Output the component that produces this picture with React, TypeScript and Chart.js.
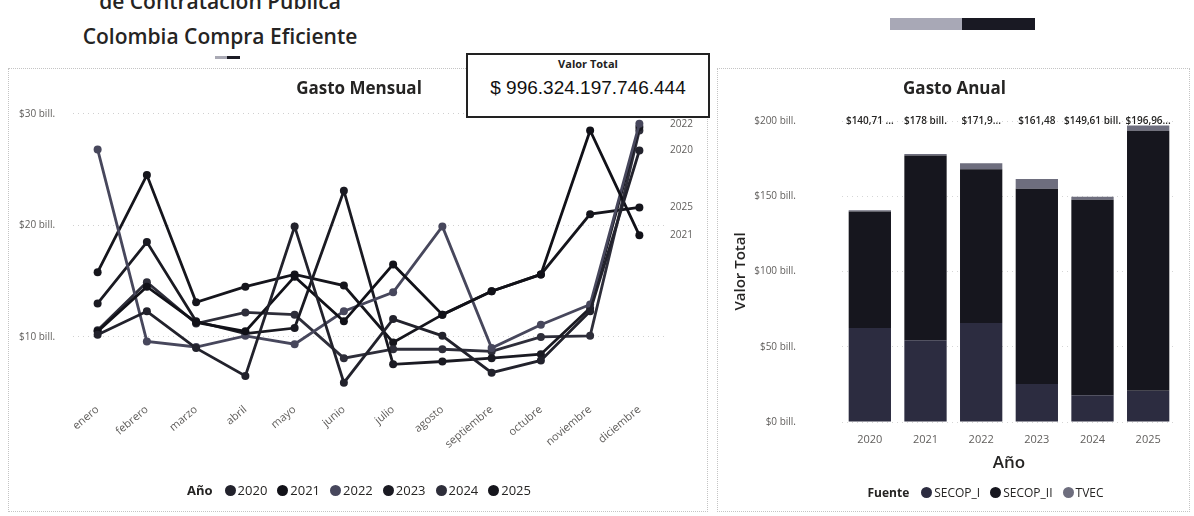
import React, { useEffect, useRef } from 'react';
import { Chart, registerables } from 'chart.js';

Chart.register(...registerables);

// ---------- Data: Gasto Mensual ----------
const months = ['enero', 'febrero', 'marzo', 'abril', 'mayo', 'junio', 'julio', 'agosto', 'septiembre', 'octubre', 'noviembre', 'diciembre'];
const years = ['2020', '2021', '2022', '2023', '2024', '2025'];
const gasto2020 = [10.2, 12.3, 9.0, 6.5, 19.9, 5.9, 11.6, 10.1, 6.8, 7.9, 12.3, 26.7];
const gasto2021 = [10.5, 14.5, 11.3, 10.5, 15.4, 11.4, 16.5, 12.0, 14.1, 15.6, 28.5, 19.1];
const gasto2022 = [26.8, 9.6, 9.1, 10.1, 9.35, 12.3, 14.0, 19.9, 9.0, 11.1, 12.9, 29.1];
const gasto2023 = [13.0, 18.5, 11.4, 10.3, 10.8, 23.1, 7.55, 7.8, 8.1, 8.45, 12.6, 28.8];
const gasto2024 = [10.6, 14.9, 11.2, 12.2, 12.0, 8.1, 8.9, 8.9, 8.7, 10.0, 10.1, 28.5];
const gasto2025 = [15.8, 24.5, 13.1, 14.5, 15.6, 14.6, 9.5, 12.0, 14.1, 15.6, 21.0, 21.6];
const monthlyTicks = [10, 20, 30];
const monthlyTickLabels = ['$10 bill.', '$20 bill.', '$30 bill.'];
const endLabelYears = ['2022', '2020', '2025', '2021'];
const lineColors = ['#22222c', '#111118', '#47475c', '#1a1a22', '#2e2e3a', '#15151c'];

// ---------- Data: Gasto Anual ----------
const fuentes = ['SECOP_I', 'SECOP_II', 'TVEC'];
const secopI = [62.5, 54.4, 65.8, 25.2, 17.8, 20.8];
const secopII = [77.4, 122.6, 102.1, 129.8, 129.8, 172.7];
const tvec = [0.8, 1.0, 4.0, 6.5, 2.0, 3.5];
const annualTotalLabels = ['$140,71 ...', '$178 bill.', '$171,9...', '$161,48', '$149,61 bill.', '$196,96...'];
const annualTicks = [0, 50, 100, 150, 200];
const annualTickLabels = ['$0 bill.', '$50 bill.', '$100 bill.', '$150 bill.', '$200 bill.'];
const barColors = ['#2c2c40', '#16161e', '#6e6e7e'];

const valorTotal = '$ 996.324.197.746.444';

const FONT = '"Open Sans", "Noto Sans", sans-serif';

const endLabelPlugin = {
  id: 'endLabels',
  afterDatasetsDraw(chart: any) {
    const { ctx, chartArea } = chart;
    ctx.save();
    ctx.font = '10px "Open Sans"';
    ctx.fillStyle = '#605e5c';
    ctx.textBaseline = 'middle';
    ctx.textAlign = 'left';
    chart.data.datasets.forEach((ds: any, i: number) => {
      if (!endLabelYears.includes(ds.label)) return;
      const meta = chart.getDatasetMeta(i);
      const pt = meta.data[meta.data.length - 1];
      if (pt) ctx.fillText(ds.label, chartArea.right + 6, pt.y);
    });
    ctx.restore();
  },
};

const totalLabelPlugin = {
  id: 'totalLabels',
  afterDatasetsDraw(chart: any) {
    const { ctx } = chart;
    const xs = chart.scales.x;
    const ys = chart.scales.y;
    ctx.save();
    ctx.font = '600 10px "Open Sans"';
    ctx.fillStyle = '#252423';
    ctx.textBaseline = 'middle';
    ctx.textAlign = 'center';
    annualTotalLabels.forEach((t, i) => {
      ctx.fillText(t, xs.getPixelForValue(i), ys.getPixelForValue(annualTicks[annualTicks.length - 1]));
    });
    ctx.restore();
  },
};

function LineChart() {
  const ref = useRef<HTMLCanvasElement>(null);
  useEffect(() => {
    const series = [gasto2020, gasto2021, gasto2022, gasto2023, gasto2024, gasto2025];
    const chart = new Chart(ref.current as HTMLCanvasElement, {
      type: 'line',
      data: {
        labels: months,
        datasets: series.map((d, i) => ({
          label: years[i],
          data: d,
          borderColor: lineColors[i],
          backgroundColor: lineColors[i],
          borderWidth: 2.8,
          pointRadius: 4,
          pointBorderWidth: 0,
          tension: 0,
        })),
      },
      options: {
        animation: false,
        responsive: false,
        maintainAspectRatio: false,
        layout: { padding: { left: 10, right: 45, top: 38, bottom: 38 } },
        plugins: { legend: { display: false }, tooltip: { enabled: false } },
        scales: {
          x: {
            offset: true,
            grid: { display: false },
            border: { display: false },
            ticks: {
              autoSkip: false,
              minRotation: 40,
              maxRotation: 40,
              padding: 0,
              color: '#605e5c',
              font: { family: FONT, size: 11 },
            },
            afterFit: (s: any) => { s.height = 80; },
          },
          y: {
            min: 4.8,
            max: 30.6,
            afterBuildTicks: (s: any) => { s.ticks = monthlyTicks.map((v) => ({ value: v })); },
            grid: { color: '#d0d0d0', drawTicks: false, lineWidth: 1 },
            border: { display: false, dash: [1, 4] },
            ticks: {
              crossAlign: 'far',
              padding: 4,
              color: '#605e5c',
              font: { family: FONT, size: 10 },
              callback: (v: any) => monthlyTickLabels[monthlyTicks.indexOf(Number(v))] ?? '',
            },
            afterFit: (s: any) => { s.width = 54; },
          },
        },
      } as any,
      plugins: [endLabelPlugin],
    });
    return () => chart.destroy();
  }, []);
  return <canvas ref={ref} width={700} height={444} style={{ position: 'absolute', left: 0, top: 0 }} />;
}

function BarChart() {
  const ref = useRef<HTMLCanvasElement>(null);
  useEffect(() => {
    const stacks = [secopI, secopII, tvec];
    const chart = new Chart(ref.current as HTMLCanvasElement, {
      type: 'bar',
      data: {
        labels: years,
        datasets: stacks.map((d, i) => ({
          label: fuentes[i],
          data: d,
          backgroundColor: barColors[i],
          borderWidth: 0,
          barPercentage: 0.76,
          categoryPercentage: 1,
        })),
      },
      options: {
        animation: false,
        responsive: false,
        maintainAspectRatio: false,
        layout: { padding: { left: 14, right: 15, top: 49, bottom: 38 } },
        plugins: { legend: { display: false }, tooltip: { enabled: false } },
        scales: {
          x: {
            stacked: true,
            grid: { display: false },
            border: { display: false },
            ticks: { padding: 3, color: '#605e5c', font: { family: FONT, size: 11 } },
            title: { display: true, text: 'Año', color: '#252423', font: { family: FONT, size: 17, weight: '600' }, padding: 2 },
            afterFit: (s: any) => { s.height = 53; },
          },
          y: {
            stacked: true,
            min: 0,
            max: 200,
            afterBuildTicks: (s: any) => { s.ticks = annualTicks.map((v) => ({ value: v })); },
            grid: { color: '#d6d6d6', drawTicks: false },
            border: { display: false, dash: [1, 4] },
            ticks: {
              padding: 46,
              color: '#605e5c',
              font: { family: FONT, size: 10 },
              callback: (v: any) => annualTickLabels[annualTicks.indexOf(Number(v))] ?? '',
            },
            title: { display: true, text: 'Valor Total', color: '#252423', font: { family: FONT, size: 15, weight: '600' }, padding: 0 },
            afterFit: (s: any) => { s.width = 110; },
          },
        },
      } as any,
      plugins: [totalLabelPlugin],
    });
    return () => chart.destroy();
  }, []);
  return <canvas ref={ref} width={473} height={444} style={{ position: 'absolute', left: 0, top: 0 }} />;
}

const dot = (c: string) => (
  <span style={{ display: 'inline-block', width: 11, height: 11, borderRadius: '50%', background: c, marginRight: 2, marginLeft: 10, verticalAlign: -1 }} />
);

export default function App() {
  return (
    <div style={{ position: 'absolute', left: 0, top: 0, width: 1194, height: 516, background: '#fff', overflow: 'hidden', fontFamily: FONT }}>
      {/* Header */}
      <div style={{ position: 'absolute', left: 20, top: -16, width: 400, textAlign: 'center', fontSize: 21, fontWeight: 600, lineHeight: '35px', color: '#252423' }}>
        <div>de Contratación Pública</div>
        <div>Colombia Compra Eficiente</div>
      </div>
      <div style={{ position: 'absolute', left: 215, top: 56, width: 12, height: 3, background: '#a9a9b4' }} />
      <div style={{ position: 'absolute', left: 227, top: 56, width: 13, height: 3, background: '#1b1b24' }} />
      <div style={{ position: 'absolute', left: 890, top: 18, width: 72, height: 12, background: '#a8a8b6' }} />
      <div style={{ position: 'absolute', left: 962, top: 18, width: 73, height: 12, background: '#191923' }} />

      {/* Left panel */}
      <div style={{ position: 'absolute', left: 8, top: 68, width: 700, height: 444, border: '1px dotted #c4c4c4', boxSizing: 'border-box' }}>
        <LineChart />
        <div style={{ position: 'absolute', left: 0, top: 7, width: 700, textAlign: 'center', fontSize: 17, fontWeight: 700, color: '#252423' }}>Gasto Mensual</div>
        <div style={{ position: 'absolute', left: 0, top: 412, width: 700, textAlign: 'center', fontSize: 13, color: '#252423' }}>
          <b style={{ marginRight: 2 }}>Año</b>
          {years.map((y, i) => (
            <span key={y}>{dot(lineColors[i])}{y}</span>
          ))}
        </div>
      </div>

      {/* Right panel */}
      <div style={{ position: 'absolute', left: 717, top: 68, width: 473, height: 444, border: '1px dotted #c4c4c4', boxSizing: 'border-box' }}>
        <BarChart />
        <div style={{ position: 'absolute', left: 0, top: 7, width: 473, textAlign: 'center', fontSize: 17, fontWeight: 700, color: '#252423' }}>
          Gasto Anual
        </div>
        <div style={{ position: 'absolute', left: 31, top: 415, width: 473, textAlign: 'center', fontSize: 12, color: '#252423' }}>
          <b style={{ marginRight: 2 }}>Fuente</b>
          {fuentes.map((f, i) => (
            <span key={f}>{dot(barColors[i])}{f}</span>
          ))}
        </div>
      </div>

      {/* KPI card */}
      <div style={{ position: 'absolute', left: 466, top: 53, width: 244, height: 65, border: '2px solid #222', boxSizing: 'border-box', background: '#fff', textAlign: 'center' }}>
        <div style={{ fontSize: 11, fontWeight: 700, marginTop: 1, color: '#222' }}>Valor Total</div>
        <div style={{ fontSize: 19, fontFamily: '"Liberation Sans", Arial, sans-serif', marginTop: 6, color: '#111' }}>{valorTotal}</div>
      </div>
    </div>
  );
}
